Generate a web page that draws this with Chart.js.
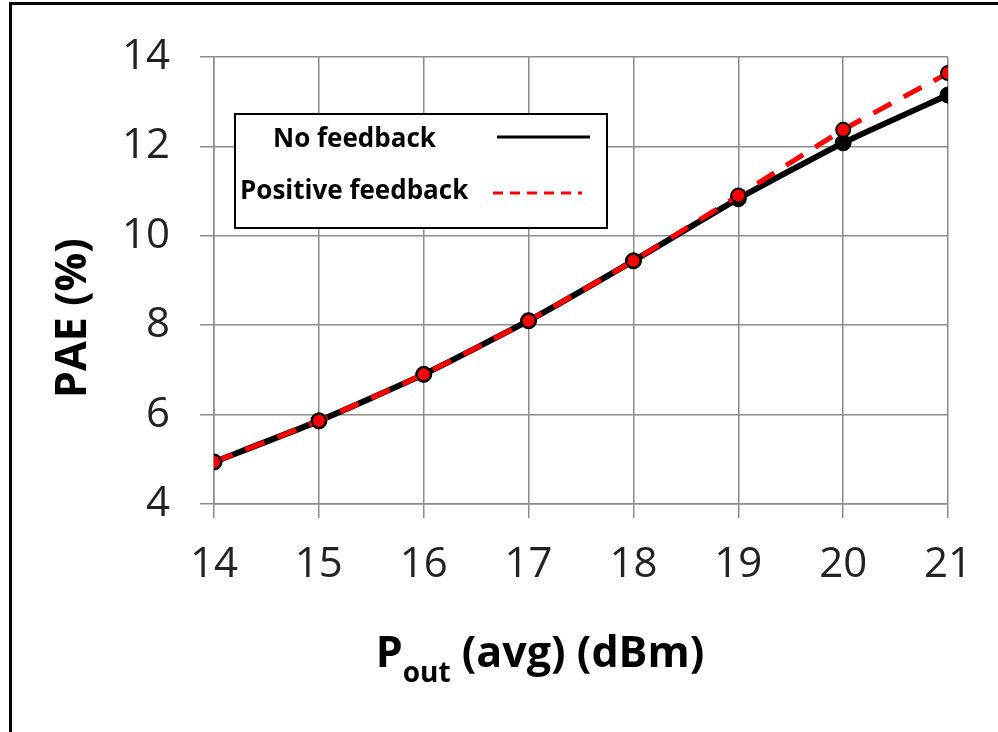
<!DOCTYPE html>
<html>
<head>
<meta charset="utf-8">
<script src="https://cdn.jsdelivr.net/npm/chart.js@4/dist/chart.umd.min.js"></script>
<style>
  html, body { margin: 0; padding: 0; background: #fff; }
  #wrap { position: absolute; left: 0; top: 0; width: 998px; height: 732px; }
  #frame { position: absolute; left: 9px; top: 2px; width: 1000px; height: 740px;
           border-top: 3px solid #000; border-left: 3px solid #000; pointer-events: none; }
</style>
</head>
<body>
<div id="wrap">
  <canvas id="paeChart" width="998" height="732"></canvas>
  <div id="frame"></div>
</div>
<script>
// Pout (avg) in dBm
var pout = [14, 15, 16, 17, 18, 19, 20, 21];
// PAE (%)
var pae_nofb = [4.94, 5.86, 6.9, 8.1, 9.44, 10.83, 12.08, 13.15];
var pae_posfb = [4.94, 5.86, 6.9, 8.1, 9.44, 10.9, 12.37, 13.64];
var yTicks = [4, 6, 8, 10, 12, 14];

var tickFont = "'Open Sans', 'Liberation Sans', sans-serif";

function pts(ys) {
  return pout.map(function (x, i) { return { x: x, y: ys[i] }; });
}

var dataFirst = {
  label: "No feedback",
  data: pts(pae_nofb),
  borderColor: "#000",
  backgroundColor: "#000",
  borderWidth: 6,
  pointRadius: 8,
  pointBackgroundColor: "#000",
  pointBorderColor: "#000",
  pointBorderWidth: 1,
  tension: 0.15,
  order: 2
};

var dataSecond = {
  label: "Positive feedback",
  data: pts(pae_posfb),
  borderColor: "#ff0000",
  backgroundColor: "#ff0000",
  borderWidth: 5,
  borderDash: [20, 14],
  pointRadius: 7,
  pointBackgroundColor: "#ff0000",
  pointBorderColor: "#000",
  pointBorderWidth: 2,
  tension: 0.15,
  order: 1
};

// draws the axis titles and the boxed legend (label left, line sample right)
var decor = {
  id: "decor",
  afterDraw: function (chart) {
    var ctx = chart.ctx;
    ctx.save();
    ctx.fillStyle = "#000";
    // y title
    ctx.translate(74, 318);
    ctx.rotate(-Math.PI / 2);
    ctx.font = "bold 43px " + tickFont;
    ctx.textAlign = "center";
    ctx.textBaseline = "middle";
    ctx.fillText("PAE (%)", 0, 0);
    ctx.restore();

    // x title with subscript
    ctx.save();
    ctx.fillStyle = "#000";
    ctx.textBaseline = "alphabetic";
    ctx.textAlign = "left";
    var big = "bold 43px " + tickFont, small = "bold 28px " + tickFont;
    ctx.font = big; var wP = ctx.measureText("P").width;
    ctx.font = small; var wSub = ctx.measureText("out").width;
    ctx.font = big; var wRest = ctx.measureText(" (avg) (dBm)").width;
    var x0 = 540 - (wP + wSub + wRest) / 2, base = 667;
    ctx.font = big; ctx.fillText("P", x0, base);
    ctx.font = small; ctx.fillText("out", x0 + wP, base + 15);
    ctx.font = big; ctx.fillText(" (avg) (dBm)", x0 + wP + wSub, base);
    ctx.restore();

    // legend box
    ctx.save();
    ctx.fillStyle = "#fff";
    ctx.fillRect(235, 114, 372, 114);
    ctx.strokeStyle = "#000";
    ctx.lineWidth = 2;
    ctx.strokeRect(235, 114, 372, 114);
    ctx.font = "bold 26px " + tickFont;
    ctx.textBaseline = "middle";
    ctx.fillStyle = "#000";
    var ds = chart.data.datasets;
    var rows = [{ tx: 273, ty: 140, lx0: 497, lx1: 590, ly: 137 },
                { tx: 240, ty: 192, lx0: 493, lx1: 582, ly: 193 }];
    ds.forEach(function (d, i) {
      var r = rows[i];
      ctx.fillText(d.label, r.tx, r.ty);
      ctx.beginPath();
      ctx.strokeStyle = d.borderColor;
      ctx.lineWidth = 3;
      ctx.setLineDash(d.borderDash ? [10, 7] : []);
      ctx.moveTo(r.lx0, r.ly);
      ctx.lineTo(r.lx1, r.ly);
      ctx.stroke();
    });
    ctx.restore();
  }
};

var lineChart = new Chart(document.getElementById("paeChart"), {
  type: "line",
  data: { datasets: [dataFirst, dataSecond] },
  options: {
    responsive: false,
    animation: false,
    layout: { padding: { top: 57, right: 50, left: 0, bottom: 0 } },
    plugins: { legend: { display: false }, tooltip: { enabled: false } },
    scales: {
      x: {
        type: "linear",
        min: 14, max: 21,
        afterFit: function (s) { s.height = 228; },
        afterBuildTicks: function (s) { s.ticks = pout.map(function (v) { return { value: v }; }); },
        grid: { color: "#8c8c8c", lineWidth: 1.5, tickLength: 14, drawTicks: true },
        border: { color: "#8c8c8c", width: 1.5 },
        ticks: { color: "#222", font: { family: tickFont, size: 42 }, padding: 22 }
      },
      y: {
        min: 4, max: 14,
        afterFit: function (s) { s.width = 214; },
        afterBuildTicks: function (s) { s.ticks = yTicks.map(function (v) { return { value: v }; }); },
        grid: { color: "#8c8c8c", lineWidth: 1.5, tickLength: 14 },
        border: { color: "#8c8c8c", width: 1.5 },
        ticks: { color: "#222", font: { family: tickFont, size: 42 }, padding: 30 }
      }
    }
  },
  plugins: [decor]
});
</script>
</body>
</html>
